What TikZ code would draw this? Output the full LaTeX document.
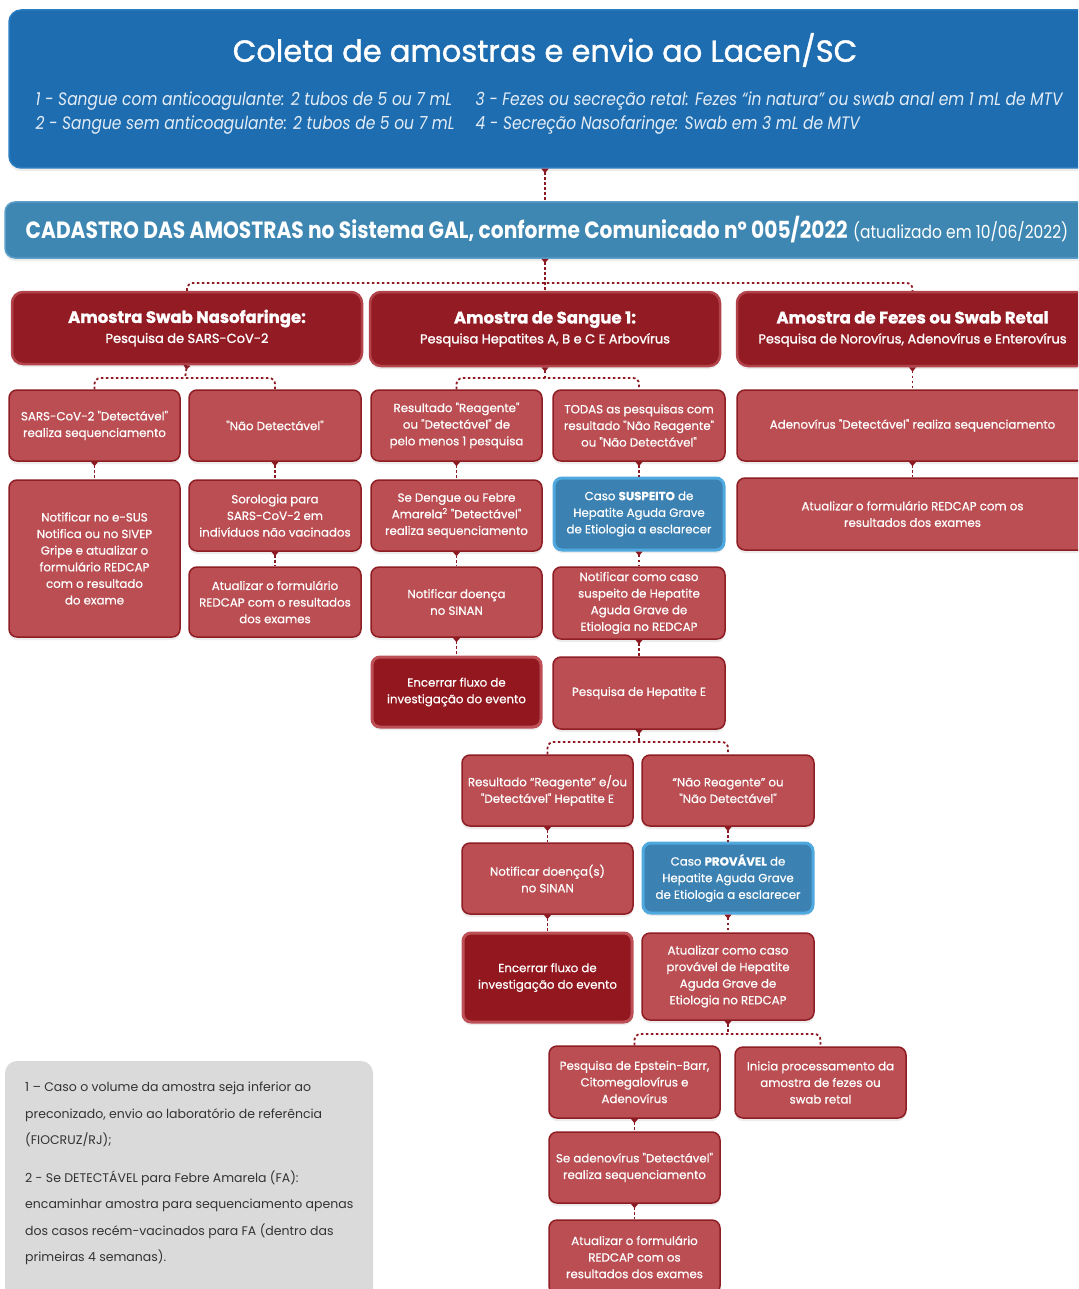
\documentclass[tikz,border=0pt]{standalone}
\usepackage{fontspec}
\setmainfont{Poppins}
\newfontfamily\condfont[FakeStretch=0.86]{Poppins}
\newfontfamily\medfont[FakeBold=0.6]{Poppins}
\newfontfamily\semifont[FakeBold=1.3]{Poppins}
\usetikzlibrary{arrows.meta,shadows}
\definecolor{hdrblue}{HTML}{1E6DB0}
\definecolor{hdredge}{HTML}{2B7DC2}
\definecolor{cadblue}{HTML}{3F87B3}
\definecolor{cadedge}{HTML}{5C9FC9}
\definecolor{topred}{HTML}{931C24}
\definecolor{topedge}{HTML}{B2434A}
\definecolor{midred}{HTML}{BA4E53}
\definecolor{midedge}{HTML}{8E1D24}
\definecolor{darkred}{HTML}{93171F}
\definecolor{darkedge}{HTML}{BC5056}
\definecolor{boxblue}{HTML}{3B82B3}
\definecolor{boxbedge}{HTML}{4FA8DE}
\definecolor{connred}{HTML}{8B1A22}
\definecolor{notegray}{HTML}{DADADA}
\definecolor{notetext}{HTML}{333333}
\tikzset{
  shad/.style={drop shadow={shadow xshift=0pt,shadow yshift=-3pt,opacity=0.15}},
  basebox/.style={shad, rounded corners=8pt, align=center, text=white, inner sep=2pt,
    font=\medfont\fontsize{11.8}{16.6}\selectfont},
  redbox/.style={basebox, fill=midred, draw=midedge, line width=1.5pt},
  endbox/.style={basebox, fill=darkred, draw=darkedge, line width=3pt},
  bluebox/.style={basebox, fill=boxblue, draw=boxbedge, line width=3pt},
  topbox/.style={basebox, rounded corners=11pt, fill=topred, draw=topedge, line width=2.5pt,
    font=\semifont\fontsize{13}{20}\selectfont},
  conn/.style={draw=connred, line width=1.8pt, dash pattern=on 2.6pt off 2.4pt},
  tipconn/.style={conn, {Triangle[reversed,width=7pt,length=4.5pt]}-},
  hdrline/.style={anchor=west, text=white!88!hdrblue, font=\condfont\itshape\fontsize{18}{22}\selectfont},
}
\newcommand{\bx}[7]{%
  \pgfmathsetmacro{\bxw}{(#5)-(#3)}%
  \pgfmathsetmacro{\bxh}{(#6)-(#4)}%
  \pgfmathsetmacro{\bxx}{((#3)+(#5))/2}%
  \pgfmathsetmacro{\bxy}{((#4)+(#6))/2}%
  \node[#2, minimum width=\bxw pt, minimum height=\bxh pt] (#1) at (\bxx,\bxy) {#7};}
\begin{document}
\begin{tikzpicture}[x=1pt,y=-1pt]
\useasboundingbox (0,0) rectangle (1078,1289);
\clip (0,0) rectangle (1078,1289);
\fill[white] (0,0) rectangle (1078,1289);

% header
\bx{hdr}{shad, rounded corners=12pt, fill=hdrblue, draw=hdredge, line width=1.5pt}{9}{10}{1092}{168}{}
\node[text=white, font=\semifont\fontsize{30.5}{36}\selectfont] (title) at (545,50) {Coleta de amostras e envio ao Lacen/SC};
\node[hdrline] (l1) at (32,101) {1 - Sangue com anticoagulante: 2 tubos de 5 ou 7 mL};
\node[hdrline] (l2) at (32,125) {2 - Sangue sem anticoagulante: 2 tubos de 5 ou 7 mL};
\node[hdrline] (l3) at (472,101) {3 - Fezes ou secreção retal: Fezes “in natura” ou swab anal em 1 mL de MTV};
\node[hdrline] (l4) at (472,125) {4 - Secreção Nasofaringe: Swab em 3 mL de MTV};

% cadastro
\bx{cad}{shad, rounded corners=10pt, fill=cadblue, draw=cadedge, line width=1.5pt}{5}{202}{1092}{258}{}
\node[text=white, font=\condfont\fontsize{23.5}{26}\selectfont] (cadtxt) at (547,230)
  {\textbf{CADASTRO DAS AMOSTRAS no Sistema GAL, conforme Comunicado nº 005/2022} {\fontsize{18}{22}\selectfont(atualizado em 10/06/2022)}};

% top boxes
\bx{swab}{topbox}{12}{292}{362}{364}{{\fontsize{16.5}{21}\selectfont\bfseries Amostra Swab Nasofaringe:}\\Pesquisa de SARS-CoV-2}
\bx{sangue}{topbox}{370}{292}{720}{366}{{\fontsize{16.5}{21}\selectfont\bfseries Amostra de Sangue 1:}\\Pesquisa Hepatites A, B e C E Arbovírus}
\bx{fezes}{topbox}{737}{292}{1088}{366}{{\fontsize{16.5}{21}\selectfont\bfseries Amostra de Fezes ou Swab Retal}\\Pesquisa de Norovírus, Adenovírus e Enterovírus}

% level 2
\bx{a1}{redbox}{9}{390}{180}{461}{SARS-CoV-2 "Detectável"\\realiza sequenciamento}
\bx{a2}{redbox}{189}{390}{361}{461}{"Não Detectável"}
\bx{b1}{redbox}{371}{390}{542}{461}{Resultado "Reagente"\\ou "Detectável" de\\pelo menos 1 pesquisa}
\bx{b2}{redbox}{553}{390}{725}{461}{TODAS as pesquisas com\\resultado "Não Reagente"\\ou "Não Detectável"}
\bx{c1}{redbox}{737}{390}{1088}{461}{Adenovírus "Detectável" realiza sequenciamento}

% level 3+
\bx{a1b}{redbox}{9}{480}{180}{637}{Notificar no e-SUS\\Notifica ou no SIVEP\\Gripe e atualizar o\\formulário REDCAP\\com o resultado\\do exame}
\bx{a2b}{redbox}{189}{480}{361}{551}{Sorologia para\\SARS-CoV-2 em\\indivíduos não vacinados}
\bx{a2c}{redbox}{189}{567}{361}{637}{Atualizar o formulário\\REDCAP com o resultados\\dos exames}
\bx{b1b}{redbox}{371}{480}{542}{551}{Se Dengue ou Febre\\Amarela\textsuperscript{2} "Detectável"\\realiza sequenciamento}
\bx{b2b}{bluebox}{554}{478}{724}{550}{Caso \textbf{SUSPEITO} de\\Hepatite Aguda Grave\\de Etiologia a esclarecer}
\bx{c2}{redbox}{737}{478}{1088}{550}{Atualizar o formulário REDCAP com os\\resultados dos exames}
\bx{b1c}{redbox}{371}{567}{542}{637}{Notificar doença\\no SINAN}
\bx{b2c}{redbox}{553}{567}{725}{639}{Notificar como caso\\suspeito de Hepatite\\Aguda Grave de\\Etiologia no REDCAP}
\bx{b1d}{endbox}{372}{657}{541}{727}{Encerrar fluxo de\\investigação do evento}
\bx{b2d}{redbox}{553}{657}{725}{729}{Pesquisa de Hepatite E}

\bx{d1}{redbox}{462}{755}{633}{826}{Resultado “Reagente” e/ou\\"Detectável" Hepatite E}
\bx{d2}{redbox}{642}{755}{814}{826}{“Não Reagente” ou\\"Não Detectável"}
\bx{d1b}{redbox}{462}{843}{633}{914}{Notificar doença(s)\\no SINAN}
\bx{d2b}{bluebox}{643}{843}{813}{913}{Caso \textbf{PROVÁVEL} de\\Hepatite Aguda Grave\\de Etiologia a esclarecer}
\bx{d1c}{endbox}{463}{933}{632}{1022}{Encerrar fluxo de\\investigação do evento}
\bx{d2c}{redbox}{642}{933}{814}{1020}{Atualizar como caso\\provável de Hepatite\\Aguda Grave de\\Etiologia no REDCAP}

\bx{e1}{redbox}{549}{1046}{720}{1118}{Pesquisa de Epstein-Barr,\\Citomegalovírus e\\Adenovírus}
\bx{e2}{redbox}{735}{1047}{906}{1118}{Inicia processamento da\\amostra de fezes ou\\swab retal}
\bx{e1b}{redbox}{549}{1132}{720}{1203}{Se adenovírus "Detectável"\\realiza sequenciamento}
\bx{e1c}{redbox}{549}{1220}{720}{1294}{Atualizar o formulário\\REDCAP com os\\resultados dos exames}

% note box
\bx{note}{rounded corners=12pt, fill=notegray}{5}{1061}{373}{1300}{}
\node[anchor=north west, align=left, text=notetext, inner sep=0pt,
  font=\fontsize{12.5}{26.5}\selectfont] (notetxt) at (25,1082)
  {1 – Caso o volume da amostra seja inferior ao\\
   preconizado, envio ao laboratório de referência\\
   (FIOCRUZ/RJ);\\[11pt]
   2 - Se DETECTÁVEL para Febre Amarela (FA):\\
   encaminhar amostra para sequenciamento apenas\\
   dos casos recém-vacinados para FA (dentro das\\
   primeiras 4 semanas).};

% connectors
\coordinate (m0) at (545,283);
\coordinate (ma) at (185,378);
\coordinate (mb) at (545,378);
\coordinate (md) at (639,742);
\coordinate (me) at (728,1034);

\draw[tipconn] (hdr.south -| title.south) -- (cad.north -| title.south);
\draw[tipconn] (cad.south -| sangue.north) -- (sangue.north);
\draw[conn, rounded corners=6pt] (swab.north) |- (m0) -| (fezes.north);

\draw[tipconn] (swab.south) -- (ma);
\draw[conn, rounded corners=6pt] (a1.north) |- (ma) -| (a2.north);
\draw[tipconn] (sangue.south) -- (mb);
\draw[conn, rounded corners=6pt] (b1.north) |- (mb) -| (b2.north);
\draw[tipconn] (fezes.south) -- (c1.north);
\draw[tipconn] (c1.south) -- (c2.north);

\draw[tipconn] (a1.south) -- (a1b.north);
\draw[tipconn] (a2.south) -- (a2b.north);
\draw[tipconn] (a2b.south) -- (a2c.north);
\draw[tipconn] (b1.south) -- (b1b.north);
\draw[tipconn] (b1b.south) -- (b1c.north);
\draw[tipconn] (b1c.south) -- (b1d.north);
\draw[tipconn] (b2.south) -- (b2b.north);
\draw[tipconn] (b2b.south) -- (b2c.north);
\draw[tipconn] (b2c.south) -- (b2d.north);

\draw[tipconn] (b2d.south) -- (md);
\draw[conn, rounded corners=6pt] (d1.north) |- (md) -| (d2.north);
\draw[tipconn] (d1.south) -- (d1b.north);
\draw[tipconn] (d1b.south) -- (d1c.north);
\draw[tipconn] (d2.south) -- (d2b.north);
\draw[tipconn] (d2b.south) -- (d2c.north);

\draw[tipconn] (d2c.south) -- (me);
\draw[conn, rounded corners=6pt] (e1.north) |- (me) -| (e2.north);
\draw[tipconn] (e1.south) -- (e1b.north);
\draw[tipconn] (e1b.south) -- (e1c.north);
\end{tikzpicture}
\end{document}
